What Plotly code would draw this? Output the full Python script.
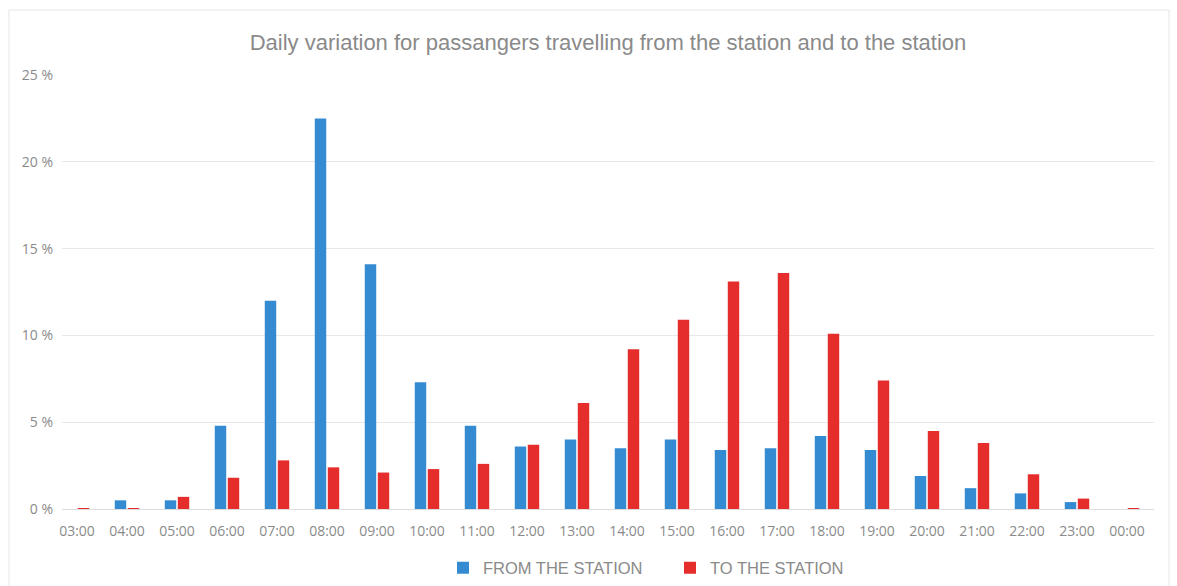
import plotly.graph_objects as go

hours = ["03:00", "04:00", "05:00", "06:00", "07:00", "08:00", "09:00", "10:00", "11:00",
         "12:00", "13:00", "14:00", "15:00", "16:00", "17:00", "18:00", "19:00", "20:00",
         "21:00", "22:00", "23:00", "00:00"]
from_station = [0.0, 0.5, 0.5, 4.8, 12.0, 22.5, 14.1, 7.3, 4.8, 3.6, 4.0, 3.5, 4.0, 3.4,
                3.5, 4.2, 3.4, 1.9, 1.2, 0.9, 0.4, 0.0]
to_station = [0.05, 0.05, 0.7, 1.8, 2.8, 2.4, 2.1, 2.3, 2.6, 3.7, 6.1, 9.2, 10.9, 13.1,
              13.6, 10.1, 7.4, 4.5, 3.8, 2.0, 0.6, 0.05]
y_ticks = [0, 5, 10, 15, 20, 25]
y_tick_labels = ["0 %", "5 %", "10 %", "15 %", "20 %", "25 %"]

BLUE = "#358bd2"
RED = "#e52e2c"
GRAY = "#8a8a8a"

fig = go.Figure()
fig.add_trace(go.Bar(x=list(range(len(hours))), y=from_station, name="FROM THE STATION",
                     marker=dict(color=BLUE, line=dict(width=0))))
fig.add_trace(go.Bar(x=list(range(len(hours))), y=to_station, name="TO THE STATION",
                     marker=dict(color=RED, line=dict(width=0))))

fig.update_layout(
    width=1177, height=586,
    margin=dict(l=62, r=23, t=75, b=77, autoexpand=False),
    paper_bgcolor="white", plot_bgcolor="white",
    barmode="group", bargap=0.48, bargroupgap=0.12,
    hovermode=False,
    title=dict(text="Daily variation for passangers travelling from the station and to the station",
               x=0.5, xref="paper", xanchor="center", y=1 - 42 / 586, yanchor="middle",
               yref="container",
               font=dict(family="Liberation Sans, Arial", size=22, color=GRAY)),
    showlegend=True,
    legend=dict(orientation="h", x=(443 - 62) / 1092, xanchor="left",
                y=(509 - 568) / 434, yanchor="middle",
                font=dict(family="Liberation Sans, Arial", size=16.5, color=GRAY),
                itemwidth=30, traceorder="normal", entrywidth=182),
    xaxis=dict(tickmode="array", tickvals=list(range(len(hours))), ticktext=hours,
               range=[-0.3, 21.54], showgrid=False, zeroline=False,
               showline=True, linecolor="#dcdcdc", linewidth=1,
               ticks="", ticklabelstandoff=9, automargin=False,
               tickfont=dict(family="Open Sans", size=14, color=GRAY), fixedrange=True),
    yaxis=dict(range=[0, 25], tickmode="array", tickvals=y_ticks, ticktext=y_tick_labels,
               showgrid=True, gridcolor="#e8e8e8", gridwidth=1, zeroline=False,
               showline=False, ticks="", ticklabelstandoff=8, automargin=False,
               tickfont=dict(family="Open Sans", size=14, color=GRAY), fixedrange=True),
    shapes=[dict(type="rect", xref="paper", yref="paper",
                 x0=(9 - 62) / 1092, x1=(1169 - 62) / 1092,
                 y0=(509 - 600) / 434, y1=(509 - 10) / 434,
                 line=dict(color="#e6e6e6", width=1), fillcolor="rgba(0,0,0,0)", layer="below")],
)

fig.write_html("out.html", config={"displayModeBar": False})
